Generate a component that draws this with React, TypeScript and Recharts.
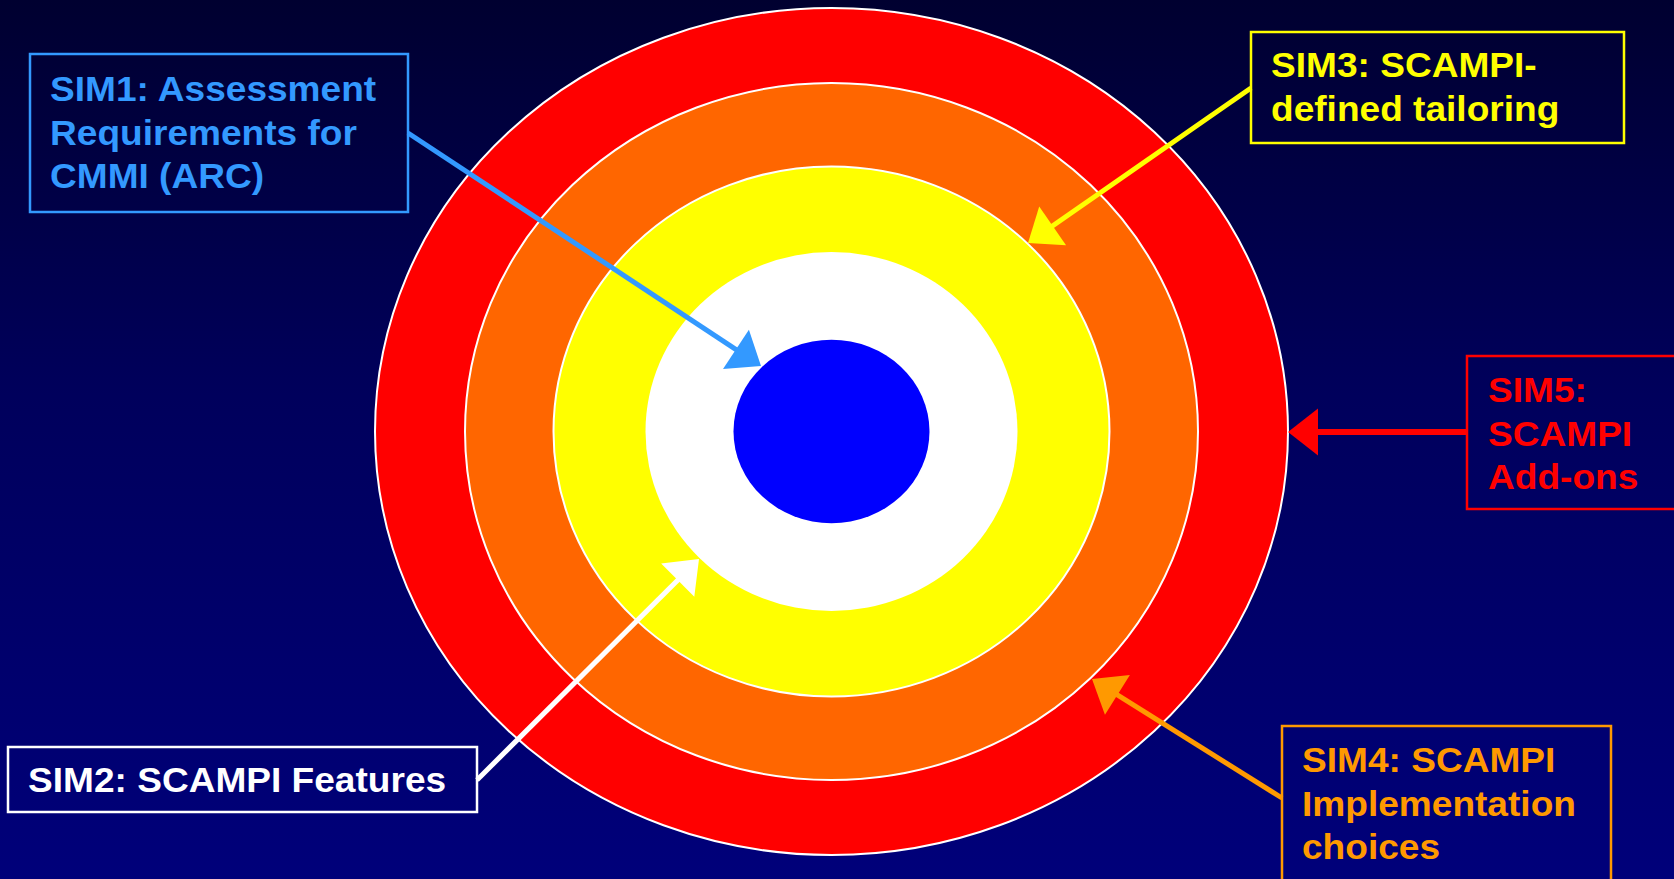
import React from 'react'
import { PieChart, Pie } from 'recharts'

const W = 1674
const H = 879
const CX = 831.5
const CY = 431.5

// rings of the target, outermost first
const ringNames = ['SIM5', 'SIM4', 'SIM3', 'SIM2', 'SIM1']
const ringValues = [1, 1, 1, 1, 1]
const ringColors = ['#ff0000', '#ff6600', '#ffff00', '#ffffff', '#0000ff']
const ringRx = [456.5, 366.5, 278, 186, 98]
const ringRy = [423.5, 348.5, 265, 179.5, 91.7]
const ringOutline = [true, true, true, false, false]

// callouts
const calloutLabels = [
    ['SIM1: Assessment', 'Requirements for', 'CMMI (ARC)'],
    ['SIM2: SCAMPI Features'],
    ['SIM3: SCAMPI-', 'defined tailoring'],
    ['SIM4: SCAMPI', 'Implementation', 'choices'],
    ['SIM5:', 'SCAMPI', 'Add-ons']
]
const calloutColors = ['#3399ff', '#ffffff', '#ffff00', '#ff9900', '#ff0000']
const calloutBoxes = [
    [30, 54, 378, 158],
    [8, 747, 469, 65],
    [1251, 32, 373, 111],
    [1282, 726, 329, 170],
    [1467, 356, 220, 153]
]
const calloutText = [
    [50, 101],
    [28, 792],
    [1271, 77],
    [1302, 772],
    [1488, 402]
]
// arrow: start (x1, y1) -> tip (x2, y2)
const arrows = [
    [408, 133, 761, 366],
    [477, 780, 699, 559],
    [1251, 88, 1028, 243],
    [1282, 798, 1092, 679],
    [1467, 432, 1288, 432]
]
const arrowWidths = [5, 5, 5, 5, 6]

const FONT = "'Liberation Sans', Arial, Helvetica, sans-serif"
const LINE = 43.5

const makeRing = (i: number) => (props: any) => {
    const { cx, cy, outerRadius } = props
    const ry = outerRadius * (ringRy[i] / ringRx[i])
    return (
        <ellipse
            cx={cx}
            cy={cy}
            rx={outerRadius}
            ry={ry}
            fill={ringColors[i]}
            stroke={ringOutline[i] ? '#ffffff' : 'none'}
            strokeWidth={2}
        />
    )
}

const Arrow = ({ a, color, width }: { a: number[]; color: string; width: number }) => {
    const [x1, y1, x2, y2] = a
    const len = Math.hypot(x2 - x1, y2 - y1)
    const ux = (x2 - x1) / len
    const uy = (y2 - y1) / len
    const headL = 30
    const headW = 47
    const bx = x2 - ux * headL
    const by = y2 - uy * headL
    const px = -uy * headW / 2
    const py = ux * headW / 2
    return (
        <g>
            <line x1={x1} y1={y1} x2={bx + ux * 2} y2={by + uy * 2} stroke={color} strokeWidth={width} />
            <polygon points={`${x2},${y2} ${bx + px},${by + py} ${bx - px},${by - py}`} fill={color} />
        </g>
    )
}

const Callouts = () => (
    <svg
        width={W}
        height={H}
        style={{ position: 'absolute', left: 0, top: 0, pointerEvents: 'none' }}
    >
        {calloutLabels.map((lines, i) => {
            const [bx, by, bw, bh] = calloutBoxes[i]
            const [tx, ty] = calloutText[i]
            return (
                <g key={i}>
                    <Arrow a={arrows[i]} color={calloutColors[i]} width={arrowWidths[i]} />
                    <rect x={bx} y={by} width={bw} height={bh} fill="none" stroke={calloutColors[i]} strokeWidth={2.5} />
                    {lines.map((line, j) => (
                        <text
                            key={j}
                            transform={`translate(${tx},${ty + j * LINE}) scale(1.075,1)`}
                            fill={calloutColors[i]}
                            fontFamily={FONT}
                            fontWeight="bold"
                            fontSize={34.5}
                        >
                            {line}
                        </text>
                    ))}
                </g>
            )
        })}
    </svg>
)

export default function App() {
    return (
        <div
            style={{
                position: 'absolute',
                left: 0,
                top: 0,
                width: W,
                height: H,
                overflow: 'hidden',
                background: 'linear-gradient(180deg, #000030 0%, #00005c 45%, #00007a 100%)'
            }}
        >
            <PieChart width={W} height={H} margin={{ top: 0, right: 0, bottom: 0, left: 0 }}>
                {ringNames.map((name, i) => (
                    <Pie
                        key={name}
                        data={[{ name, value: ringValues[i] }]}
                        dataKey="value"
                        nameKey="name"
                        cx={CX}
                        cy={CY}
                        innerRadius={ringRx[i + 1] ?? 0}
                        outerRadius={ringRx[i]}
                        startAngle={90}
                        endAngle={-270}
                        stroke="none"
                        isAnimationActive={false}
                        shape={makeRing(i)}
                    />
                ))}
            </PieChart>
            <Callouts />
        </div>
    )
}
